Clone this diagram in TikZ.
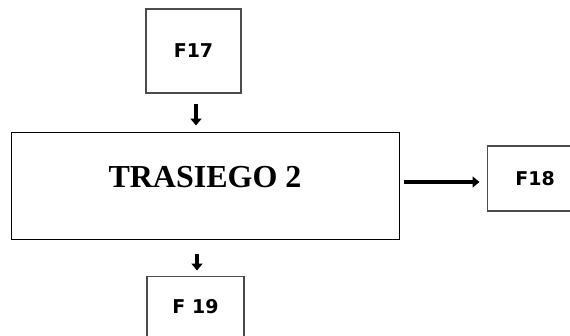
\documentclass[tikz,border=0pt]{standalone}
\usepackage{fontspec}
\setmainfont{Liberation Serif}
\newfontfamily\boxfont{DejaVu Sans}
\usetikzlibrary{arrows.meta,positioning}
\tikzset{
  mainBox/.style={rectangle, draw=black, line width=1pt, font=\bfseries\fontsize{32}{38}\selectfont, minimum width=388pt, minimum height=107pt, text height=24pt, text depth=21pt},
  fBox/.style={rectangle, draw=black!70, line width=1.2pt, font=\boxfont\bfseries\fontsize{19}{23}\selectfont},
  flowArrow/.style={-{Triangle[length=7pt,width=11pt]}, line width=4pt}
}

\begin{document}
\begin{tikzpicture}

% Page size
\useasboundingbox (0,0) rectangle (570pt,-335pt);
\clip (0,0) rectangle (570pt,-335pt);

% Boxes
\node[mainBox] (T2) at (205pt,-185.5pt) {TRASIEGO 2};
\node[fBox, minimum width=95pt, minimum height=84pt, above=38pt of T2, xshift=-11.5pt] (F17) {F17};
\node[fBox, minimum width=96pt, minimum height=65pt, right=87pt of T2, yshift=7pt] (F18) {F18};
\node[fBox, minimum width=97pt, minimum height=61pt, below=36pt of T2, xshift=-9.5pt] (F19) {F 19};

% Draw arrows
\draw[flowArrow, shorten <=10pt, shorten >=6pt] ([xshift=2.5pt]F17.south) -- ([xshift=2.5pt]F17.south |- T2.north);
\draw[flowArrow, shorten <=4pt, shorten >=7pt] ([yshift=-3.5pt]F18.west -| T2.east) -- ([yshift=-3.5pt]F18.west);
\draw[flowArrow, shorten <=14pt, shorten >=5pt] ([xshift=1.5pt]F19.north |- T2.south) -- ([xshift=1.5pt]F19.north);

\end{tikzpicture}
\end{document}
